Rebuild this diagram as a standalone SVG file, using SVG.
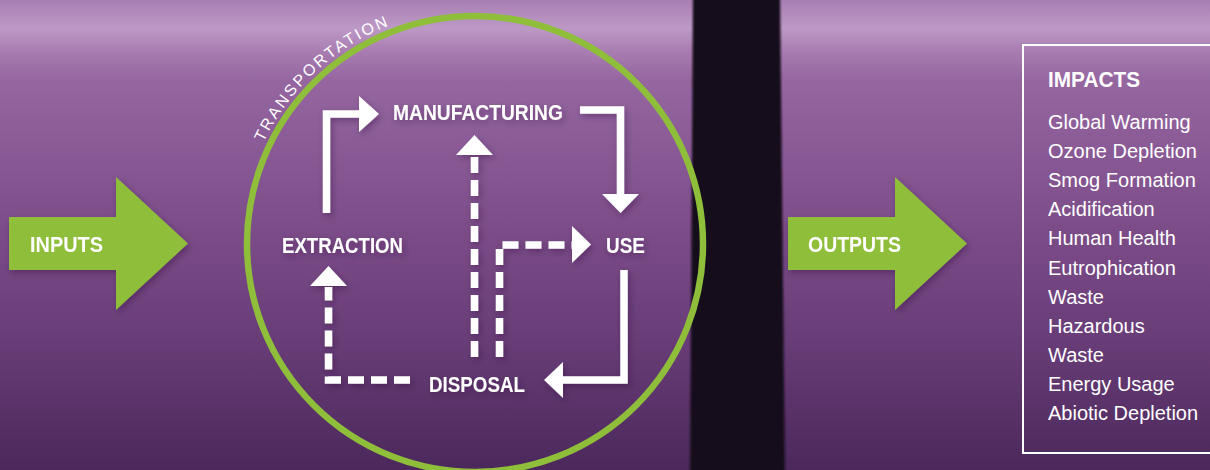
<svg xmlns="http://www.w3.org/2000/svg" width="1210" height="470" viewBox="0 0 1210 470">
  <defs>
    <linearGradient id="bg" x1="0" y1="0" x2="0" y2="1">
      <stop offset="0" stop-color="#a87eb2"/>
      <stop offset="0.06" stop-color="#bd99c6"/>
      <stop offset="0.11" stop-color="#a87cb1"/>
      <stop offset="0.17" stop-color="#9566a0"/>
      <stop offset="0.5" stop-color="#7b4b88"/>
      <stop offset="0.75" stop-color="#663b75"/>
      <stop offset="1" stop-color="#4b285b"/>
    </linearGradient>
    <filter id="blur" x="-20%" y="-5%" width="140%" height="110%">
      <feGaussianBlur stdDeviation="1.3"/>
    </filter>
    <filter id="shadow" x="-20%" y="-20%" width="140%" height="150%">
      <feDropShadow dx="2" dy="3" stdDeviation="3" flood-color="#2a0f35" flood-opacity="0.35"/>
    </filter>
    <path id="arc" d="M 263.5 142.5 A 235 235 0 0 1 434.4 12.6"/>
  </defs>
  <style>
    .lbl { font-family: "Liberation Sans", Arial, sans-serif; font-weight: bold; font-size: 22px; fill: #ffffff; }
    .imp { font-family: "Liberation Sans", Arial, sans-serif; font-size: 20px; fill: #ffffff; }
    .green { fill: #8fbe3b; }
    .solid { fill: none; stroke: #ffffff; stroke-width: 7.5; stroke-linejoin: miter; }
    .dash { fill: none; stroke: #ffffff; stroke-width: 7.5; stroke-dasharray: 16 7; stroke-linejoin: miter; }
    .head { fill: #ffffff; }
  </style>

  <rect x="0" y="0" width="1210" height="470" fill="url(#bg)"/>
  <polygon points="693,-10 780,-10 785,480 690,480" fill="#160c1a" filter="url(#blur)"/>

  <g id="inputs" filter="url(#shadow)">
    <polygon class="green" points="9,217 116,217 116,177 188,243.5 116,310 116,270 9,270"/>
    <text class="lbl" x="30" y="251.5" textLength="73" lengthAdjust="spacingAndGlyphs">INPUTS</text>
  </g>

  <g id="transportation">
    <circle cx="475" cy="244" r="228" fill="none" stroke="#8fbe3b" stroke-width="6.5"/>
    <text font-family="Liberation Sans, Arial, sans-serif" font-size="16" fill="#ffffff" letter-spacing="2.3"><textPath href="#arc">TRANSPORTATION</textPath></text>
  </g>

  <g id="connectors" filter="url(#shadow)">
    <path class="solid" d="M 326.5 213 V 114 H 360"/>
    <polygon class="head" points="359,96 359,132 379,114"/>
    <path class="solid" d="M 580 110 H 620.5 V 195"/>
    <polygon class="head" points="602,194 639,194 620.5,213"/>
    <path class="solid" d="M 624 270 V 380 H 562"/>
    <polygon class="head" points="563,362 563,398 544,380"/>
    <path class="dash" d="M 410 380 H 328.5 V 287"/>
    <polygon class="head" points="310,286 347,286 328.5,266"/>
    <path class="dash" d="M 474.5 357 V 156"/>
    <polygon class="head" points="456,155 493,155 474.5,135"/>
    <path class="dash" d="M 499.5 357 V 245 H 573"/>
    <polygon class="head" points="572,226 572,263 591,244.5"/>
  </g>

  <g id="manufacturing" filter="url(#shadow)">
    <text class="lbl" x="393" y="119.5" textLength="170" lengthAdjust="spacingAndGlyphs">MANUFACTURING</text>
  </g>
  <g id="extraction" filter="url(#shadow)">
    <text class="lbl" x="282" y="252.5" textLength="121" lengthAdjust="spacingAndGlyphs">EXTRACTION</text>
  </g>
  <g id="use" filter="url(#shadow)">
    <text class="lbl" x="606" y="252.5" textLength="39" lengthAdjust="spacingAndGlyphs">USE</text>
  </g>
  <g id="disposal" filter="url(#shadow)">
    <text class="lbl" x="429" y="391.5" textLength="96" lengthAdjust="spacingAndGlyphs">DISPOSAL</text>
  </g>

  <g id="outputs" filter="url(#shadow)">
    <polygon class="green" points="788,217 895,217 895,177 967,243.5 895,310 895,270 788,270"/>
    <text class="lbl" x="808" y="251.5" textLength="93" lengthAdjust="spacingAndGlyphs">OUTPUTS</text>
  </g>

  <g id="impacts">
    <rect x="1023" y="45" width="200" height="408" fill="none" stroke="#ffffff" stroke-width="2"/>
    <text class="lbl" x="1048" y="87" textLength="92" lengthAdjust="spacingAndGlyphs">IMPACTS</text>
    <text class="imp" x="1048" y="129">Global Warming</text>
    <text class="imp" x="1048" y="158.1">Ozone Depletion</text>
    <text class="imp" x="1048" y="187.2">Smog Formation</text>
    <text class="imp" x="1048" y="216.3">Acidification</text>
    <text class="imp" x="1048" y="245.4">Human Health</text>
    <text class="imp" x="1048" y="274.5">Eutrophication</text>
    <text class="imp" x="1048" y="303.6">Waste</text>
    <text class="imp" x="1048" y="332.7">Hazardous</text>
    <text class="imp" x="1048" y="361.8">Waste</text>
    <text class="imp" x="1048" y="390.9">Energy Usage</text>
    <text class="imp" x="1048" y="420">Abiotic Depletion</text>
  </g>
</svg>
